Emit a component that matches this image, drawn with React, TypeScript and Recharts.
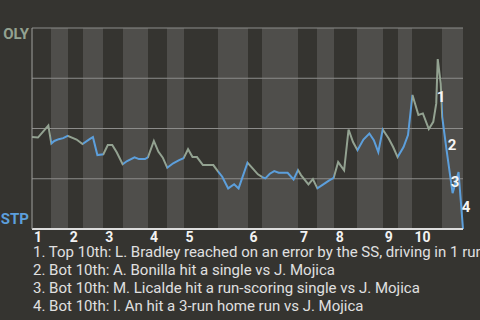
import React from "react";
import { LineChart, Line, XAxis, YAxis, CartesianGrid, ReferenceDot } from "recharts";

// x = cumulative pitch count, y = OLY win probability after each play
const pitchNumbers = [
  0, 4, 11, 13, 15, 18, 21, 24, 30, 34, 39, 41, 44, 48, 51, 54, 57, 61, 64, 69, 72, 76, 78,
  82, 85, 88, 91, 95, 99, 102, 105, 108, 111, 115, 122, 125, 128, 132, 136, 139, 145,
  148, 152, 155, 157, 160, 163, 166, 172, 176, 179, 181, 186, 189, 192, 196, 200, 203,
  206, 210, 213, 216, 219, 223, 227, 230, 233, 236, 240, 243, 246, 250, 253, 256,
  258, 260, 263, 267, 270, 272, 273, 275, 276, 279, 283, 287, 290,
];
const olyWinProb = [
  0.458, 0.455, 0.515, 0.425, 0.438, 0.447, 0.452, 0.463, 0.445, 0.423, 0.448, 0.457, 0.368, 0.372,
  0.418, 0.418, 0.382, 0.322, 0.338, 0.357, 0.348, 0.348, 0.357,
  0.438, 0.385, 0.355, 0.305, 0.327, 0.343, 0.352, 0.397, 0.358, 0.358, 0.318, 0.318, 0.288,
  0.26, 0.202, 0.223, 0.202, 0.33, 0.305, 0.272, 0.258, 0.252, 0.275, 0.288, 0.28, 0.28, 0.247, 0.293,
  0.268, 0.222, 0.248, 0.202, 0.222, 0.242, 0.255,
  0.333, 0.292, 0.495, 0.433, 0.392, 0.445, 0.475, 0.442, 0.383, 0.495, 0.45, 0.408, 0.358,
  0.408, 0.467, 0.667, 0.617, 0.567, 0.575, 0.497, 0.533, 0.625, 0.845, 0.725, 0.558,
  0.39, 0.178, 0.283, 0,
];
// pitch where each half inning starts (top 1st, bot 1st, ...), last entry = game end
const halfInningBounds = [0, 13, 24, 34, 48, 61, 78, 91, 102, 125, 145, 155, 179, 192, 203, 219, 236, 246, 256, 276, 290];
const inningNames = ["1", "2", "3", "4", "5", "6", "7", "8", "9", "10"];

const noteNumbers = ["1", "2", "3", "4"];
const notePitch = [275.2, 282.6, 284.7, 292.1];
const noteProb = [0.656, 0.42, 0.237, 0.11];
const playNotes = [
  "1. Top 10th: L. Bradley reached on an error by the SS, driving in 1 run",
  "2. Bot 10th: A. Bonilla hit a single vs J. Mojica",
  "3. Bot 10th: M. Licalde hit a run-scoring single vs J. Mojica",
  "4. Bot 10th: I. An hit a 3-run home run vs J. Mojica",
];

const BG = "#353430";
const BAND = "#4f4e4b";
const OLY_GREEN = "#93a291";
const STP_BLUE = "#5c9fdc";
const FONT = "Roboto, sans-serif";

const data = pitchNumbers.map((p, i) => ({ pitch: p, wp: olyWinProb[i] }));
const lastPitch = halfInningBounds[halfInningBounds.length - 1];
const inningStarts = halfInningBounds.filter((_, i) => i % 2 === 0 && i < halfInningBounds.length - 1);

const InningTick = ({ x, y, payload }: any) => (
  <text x={x + 2} y={y + 13} fill="#f2f2f2" fontSize={14} fontWeight={700} fontFamily={FONT}>
    {inningNames[inningStarts.indexOf(payload.value)]}
  </text>
);

const TeamTick = ({ x, y, payload }: any) => {
  if (payload.value === 1)
    return (
      <text x={x} y={y + 11} textAnchor="end" fill={OLY_GREEN} fontSize={15} fontWeight={700} fontFamily={FONT}>
        OLY
      </text>
    );
  if (payload.value === 0)
    return (
      <text x={x} y={y - 5} textAnchor="end" fill={STP_BLUE} fontSize={15} fontWeight={700} fontFamily={FONT}>
        STP
      </text>
    );
  return <g />;
};

export default function App() {
  return (
    <div
      style={{
        position: "absolute",
        left: 0,
        top: 0,
        width: 480,
        height: 320,
        background: BG,
        overflow: "hidden",
        fontFamily: FONT,
      }}
    >
      <LineChart width={480} height={245} data={data} margin={{ top: 28, right: 17, bottom: 0, left: 0 }}>
        <defs>
          <linearGradient id="halfColor" x1="0" y1="0" x2="1" y2="0">
            {halfInningBounds.slice(0, -1).flatMap((b, i) => {
              const c = i % 2 === 0 ? OLY_GREEN : STP_BLUE;
              return [
                <stop key={`a${i}`} offset={b / lastPitch} stopColor={c} />,
                <stop key={`b${i}`} offset={halfInningBounds[i + 1] / lastPitch} stopColor={c} />,
              ];
            })}
          </linearGradient>
        </defs>
        <CartesianGrid
          horizontal={false}
          vertical
          verticalValues={halfInningBounds}
          verticalFill={[BG, BAND]}
          fillOpacity={1}
          stroke="none"
        />
        <CartesianGrid vertical={false} stroke="#8c8c8a" />
        <XAxis
          type="number"
          dataKey="pitch"
          domain={[0, lastPitch]}
          ticks={inningStarts}
          interval={0}
          tickLine={false}
          tickSize={0}
          tickMargin={0}
          height={16}
          axisLine={{ stroke: "#dcdcdc", strokeWidth: 2 }}
          tick={<InningTick />}
        />
        <YAxis
          type="number"
          domain={[0, 1]}
          ticks={[0, 0.25, 0.5, 0.75, 1]}
          width={32}
          tickLine={false}
          tickSize={0}
          tickMargin={3}
          axisLine={{ stroke: "#a0a09d" }}
          tick={<TeamTick />}
        />
        <Line
          type="linear"
          dataKey="wp"
          stroke="url(#halfColor)"
          strokeWidth={2}
          dot={false}
          activeDot={false}
          isAnimationActive={false}
        />
        {noteNumbers.map((n, i) => (
          <ReferenceDot
            key={n}
            x={notePitch[i]}
            y={noteProb[i]}
            r={0}
            ifOverflow="visible"
            label={{ value: n, position: "center", fill: "#f5f5f5", fontSize: 15, fontWeight: 700, fontFamily: FONT }}
          />
        ))}
      </LineChart>
      <div
        style={{
          position: "absolute",
          left: 33,
          top: 244.3,
          fontSize: 15,
          lineHeight: "17.8px",
          color: "#e0e0e0",
          whiteSpace: "nowrap",
        }}
      >
        {playNotes.map((t) => (
          <div key={t}>{t}</div>
        ))}
      </div>
    </div>
  );
}
